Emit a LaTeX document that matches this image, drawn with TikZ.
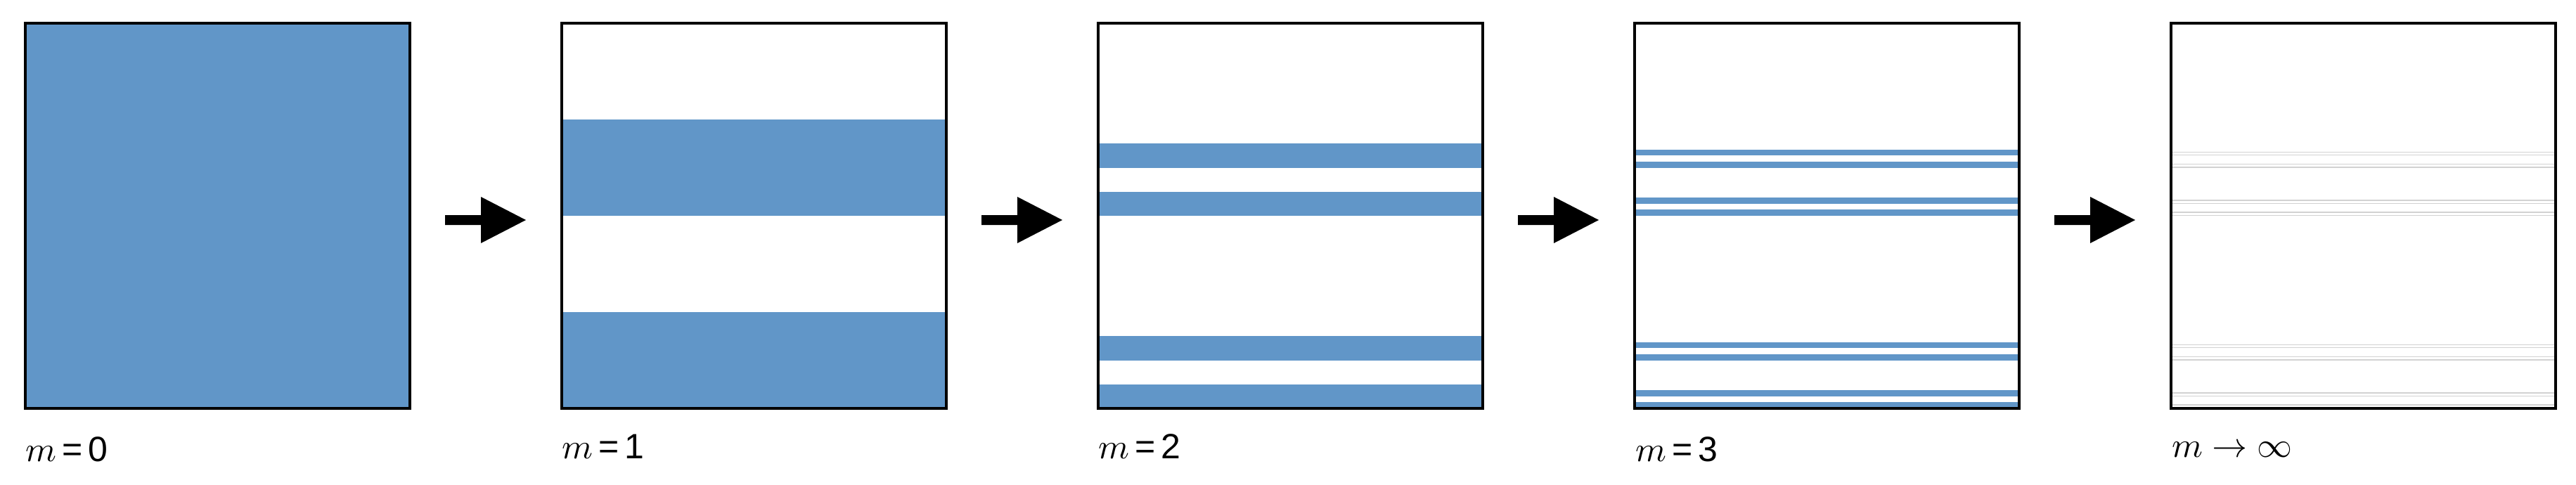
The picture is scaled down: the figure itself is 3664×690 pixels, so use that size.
\documentclass[tikz,border=0pt]{standalone}
\usepackage{fontspec}
\setmainfont{Liberation Sans}
\usepackage{unicode-math}
\setmathfont{Latin Modern Math}
\definecolor{stripe}{HTML}{6196C8}
\begin{document}
\begin{tikzpicture}[x=1pt,y=-1pt,
  boxline/.style={draw=black,line width=4pt},
  lbl/.style={anchor=base west,inner sep=0pt,font=\fontsize{50}{60}\selectfont},
  arrowshape/.style={fill=black}]
\useasboundingbox (0,0) rectangle (3664,690);
% stripe helper: box index, start fraction, end fraction (from bottom)
\newcommand\mystripe[4][stripe]{%
  \pgfmathsetmacro\xa{36+763*#2}%
  \fill[#1] (\xa,{581-#3*548}) rectangle (\xa+547,{581-#4*548});}
% m=0
\mystripe{0}{0}{1}
% m=1
\mystripe{1}{0}{0.25}\mystripe{1}{0.5}{0.75}
% m=2
\foreach \s in {0,8,32,40}{\mystripe{2}{\s/64}{(\s+4)/64}}
% m=3
\foreach \s in {0,2,8,10,32,34,40,42}{\mystripe{3}{\s/64}{(\s+1)/64}}
% m->infinity (faint)
\foreach \s in {0,8,32,40,128,136,160,168}{%
  \mystripe[gray!35]{4}{\s/256}{(\s+0.6)/256}%
  \mystripe[gray!35]{4}{(\s+2)/256}{(\s+2.6)/256}}
% boxes
\foreach \i in {0,...,4}{\draw[boxline] ({36+763*\i},33) rectangle ({36+763*\i+547},581);}
% arrows
\foreach \i in {0,...,3}{\fill[arrowshape] ({633+763*\i},306) -- ({684+763*\i},306) -- ({684+763*\i},280) -- ({748+763*\i},313) -- ({684+763*\i},346) -- ({684+763*\i},320) -- ({633+763*\i},320) -- cycle;}
% labels
\node[lbl] (l0) at (36,656) {$m$\,=\,0};
\node[lbl] (l1) at (799,652) {$m$\,=\,1};
\node[lbl] (l2) at (1562,652) {$m$\,=\,2};
\node[lbl] (l3) at (2326,656) {$m$\,=\,3};
\node[lbl] (l4) at (3089,650) {$m\rightarrow\infty$};
\end{tikzpicture}
\end{document}
